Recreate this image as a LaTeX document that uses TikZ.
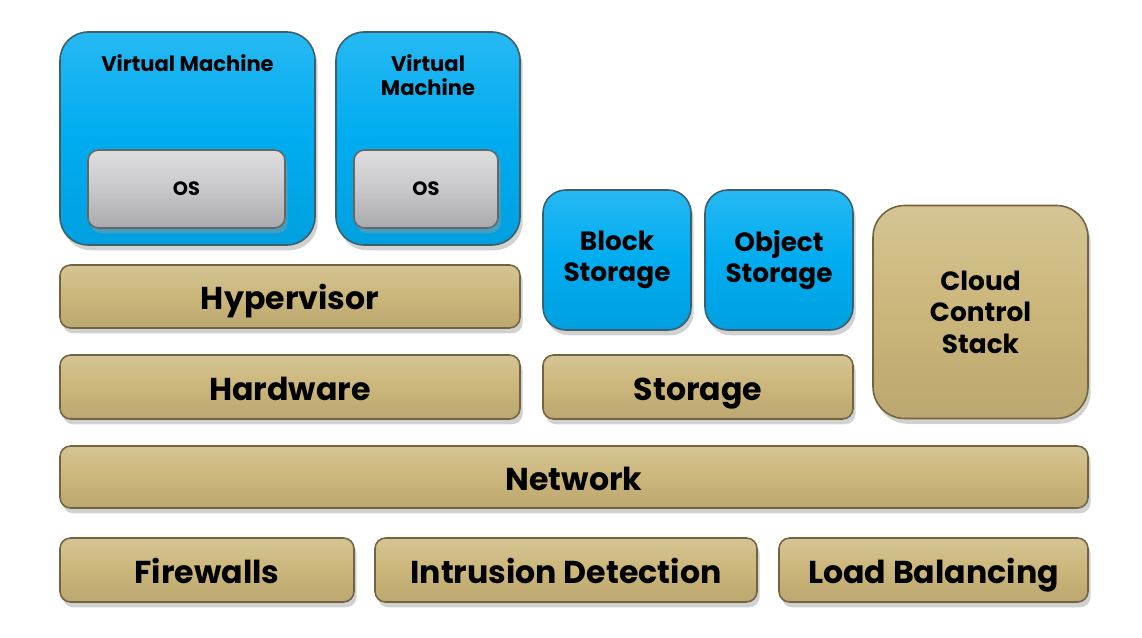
\documentclass[tikz,border=0pt]{standalone}
\usepackage{fontspec}
\setmainfont{Poppins}
\usepackage{tikz}
\usetikzlibrary{shadows}

\definecolor{vmblue}{RGB}{0,172,240}
\definecolor{vmblueedge}{RGB}{60,95,110}
\definecolor{tan}{RGB}{203,182,122}
\definecolor{tanedge}{RGB}{115,100,65}
\definecolor{osgray}{RGB}{200,200,202}

\begin{document}
\begin{tikzpicture}
      [
        x=0.02cm, y=-0.02cm,
        font=\bfseries,
        sz/.style 2 args={minimum width=#1*0.02cm, minimum height=#2*0.02cm},
        box/.style={draw, line width=0.9pt, inner sep=0pt, align=center,
          drop shadow={shadow xshift=1.5pt, shadow yshift=-3pt, fill=black!40, opacity=0.45}},
        block/.style={box, draw=tanedge, top color=tan!80!white, bottom color=tan!92!black,
          middle color=tan, rounded corners=6pt},
        layer/.style={block, font=\bfseries\fontsize{18}{20}\selectfont,
          text height=15pt, text depth=0pt},
        vm/.style={box, draw=vmblueedge, top color=vmblue!85!white, bottom color=vmblue!93!black,
          middle color=vmblue, rounded corners=16pt},
        os/.style={box, draw=black!60, top color=osgray!60!white, bottom color=osgray!85!black,
          middle color=osgray, rounded corners=6pt, font=\bfseries\fontsize{11}{13}\selectfont},
        title/.style={font=\bfseries\fontsize{12}{14}\selectfont, align=center, inner sep=0pt}
      ]

      \useasboundingbox (0,0) rectangle (1142,638);

      % virtual machines
      \node[vm,sz={255}{213}] (VM1) at (187.5,138.5) {};
      \node[title] (VM1t) at (187.5,63) {Virtual Machine};
      \node[os,sz={197}{78}] (OS1) at (186.5,189) {OS};

      \node[vm,sz={184}{213}] (VM2) at (428,138.5) {};
      \node[title] (VM2t) at (428,75) {Virtual\\Machine};
      \node[os,sz={144}{78}] (OS2) at (426,189) {OS};

      % storage services
      \node[vm,rounded corners=13pt,sz={148}{140},font=\bfseries\fontsize{15}{18}\selectfont]
        (Block) at (617,260) {Block\\Storage};
      \node[vm,rounded corners=13pt,sz={148}{140},font=\bfseries\fontsize{15}{18}\selectfont]
        (Object) at (779,260) {Object\\Storage};

      \node[block,rounded corners=18pt,sz={215}{213},font=\bfseries\fontsize{15}{18}\selectfont]
        (Cloud) at (980.5,312) {Cloud\\Control\\Stack};

      % layers
      \node[layer,sz={460}{63}] (Hyper) at (290,296.5) {Hypervisor};
      \node[layer,sz={460}{64}] (HW) at (290,387) {Hardware};
      \node[layer,sz={310}{64}] (Stor) at (698,387) {Storage};
      \node[layer,sz={1028}{62}] (Net) at (574,477) {Network};

      \node[layer,sz={294}{64}] (FW) at (207,570) {Firewalls};
      \node[layer,sz={382}{64}] (IDS) at (566,570) {Intrusion Detection};
      \node[layer,sz={309}{64}] (LB) at (933.5,570) {Load Balancing};
    \end{tikzpicture}
\end{document}
